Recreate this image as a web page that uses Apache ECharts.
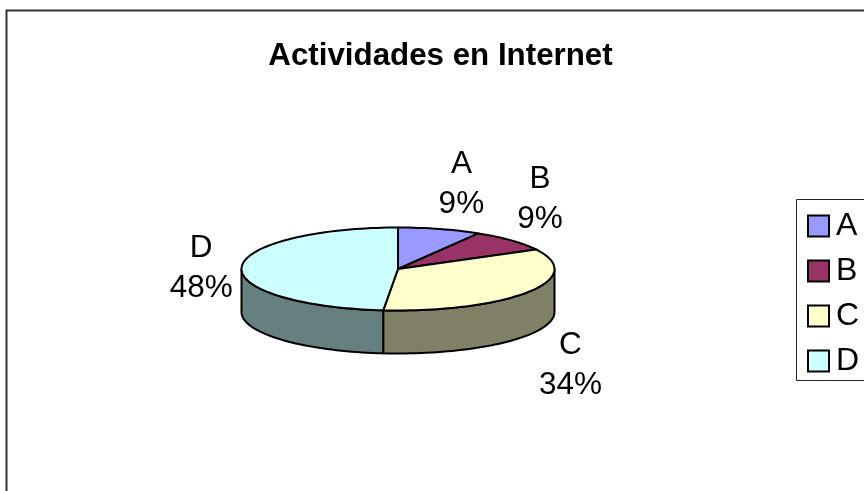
<!DOCTYPE html>
<html>
<head>
<meta charset="utf-8">
<style>
  html, body { margin: 0; padding: 0; background: #fff; }
  #main { width: 864px; height: 491px; }
</style>
<script src="https://cdn.jsdelivr.net/npm/echarts@6/dist/echarts.min.js"></script>
</head>
<body>
<div id="main"></div>
<script>
// Pie values (the labels round them)
var categories = ['A', 'B', 'C', 'D'];
var values = [8.6, 8.6, 34.3, 48.49];
var labelPercents = ['9%', '9%', '34%', '48%'];
var topColors = ['#9999FF', '#993366', '#FFFFCC', '#CCFFFF'];
var sideColors = ['#4d4d80', '#4d1a33', '#808066', '#668080'];

var chartTitle = 'Actividades en Internet';
var fontName = '"Liberation Sans", Arial, sans-serif';

// tilted disc
var cx = 398, cy = 269, rx = 156.5, ry = 41.5, depth = 43;
// small nudges for the data labels, from where the angle puts them
var labelNudge = [[10, 12], [-3, -1], [6, 41], [3, 4]];

var total = values.reduce(function (a, b) { return a + b; }, 0);

function ptOnRim(deg, down) {
  var r = deg * Math.PI / 180;
  return [cx + rx * Math.sin(r), cy - ry * Math.cos(r) + (down || 0)];
}

function arcPts(from, to, down) {
  var pts = [], n = Math.max(2, Math.ceil(Math.abs(to - from) / 2));
  for (var i = 0; i <= n; i++) {
    pts.push(ptOnRim(from + (to - from) * i / n, down));
  }
  return pts;
}

function sliceRange(idx) {
  var start = 0;
  for (var i = 0; i < idx; i++) start += values[i];
  return [start / total * 360, (start + values[idx]) / total * 360];
}

function renderSlice(idx) {
  return function () {
    var range = sliceRange(idx), kids = [];
    // the rim only shows on the front half
    var from = Math.max(range[0], 90), to = Math.min(range[1], 270);
    if (to > from) {
      kids.push({
        type: 'polygon',
        shape: { points: arcPts(from, to, 0).concat(arcPts(to, from, depth)) },
        style: { fill: sideColors[idx], stroke: '#000', lineWidth: 2 }
      });
    }
    kids.push({
      type: 'polygon',
      shape: { points: [[cx, cy]].concat(arcPts(range[0], range[1], 0)) },
      style: { fill: topColors[idx], stroke: '#000', lineWidth: 2, lineJoin: 'round' }
    });
    var mid = (range[0] + range[1]) / 2 * Math.PI / 180;
    kids.push({
      type: 'text',
      z2: 10,
      style: {
        text: categories[idx] + '\n' + labelPercents[idx],
        x: cx + 200 * Math.sin(mid) + labelNudge[idx][0],
        y: cy - 100 * Math.cos(mid) + labelNudge[idx][1],
        align: 'center',
        verticalAlign: 'middle',
        font: '31.5px ' + fontName,
        lineHeight: 40,
        fill: '#000'
      }
    });
    return { type: 'group', children: kids };
  };
}

var chart = echarts.init(document.getElementById('main'), null, { renderer: 'canvas' });

var series = categories.map(function (name, i) {
  return {
    name: name,
    type: 'custom',
    coordinateSystem: 'none',
    silent: true,
    animation: false,
    itemStyle: { color: topColors[i], borderColor: '#000', borderWidth: 2 },
    renderItem: renderSlice(i),
    data: [values[i]]
  };
});

chart.setOption({
  animation: false,
  backgroundColor: '#fff',
  title: {
    text: chartTitle,
    left: 435.5,
    top: 36,
    textAlign: 'center',
    textStyle: { fontFamily: fontName, fontWeight: 'bold', fontSize: 31.3, color: '#000' }
  },
  legend: {
    orient: 'vertical',
    left: 796,
    top: 199,
    data: categories,
    icon: 'rect',
    itemWidth: 21,
    itemHeight: 21,
    itemGap: 13,
    padding: [11, 0, 0, 11],
    selectedMode: false,
    textStyle: { fontFamily: fontName, fontSize: 32, color: '#000', padding: [0, 0, 0, 2] }
  },
  graphic: [{
    type: 'rect',
    silent: true,
    z: -1,
    shape: { x: 6.5, y: 10.5, width: 900, height: 520 },
    style: { fill: 'none', stroke: '#333', lineWidth: 2 }
  }, {
    // legend frame runs off the right edge like the chart frame
    type: 'rect',
    silent: true,
    z: -1,
    shape: { x: 796.5, y: 199.5, width: 100, height: 181 },
    style: { fill: '#fff', stroke: '#222', lineWidth: 1 }
  }],
  series: series
});
</script>
</body>
</html>
